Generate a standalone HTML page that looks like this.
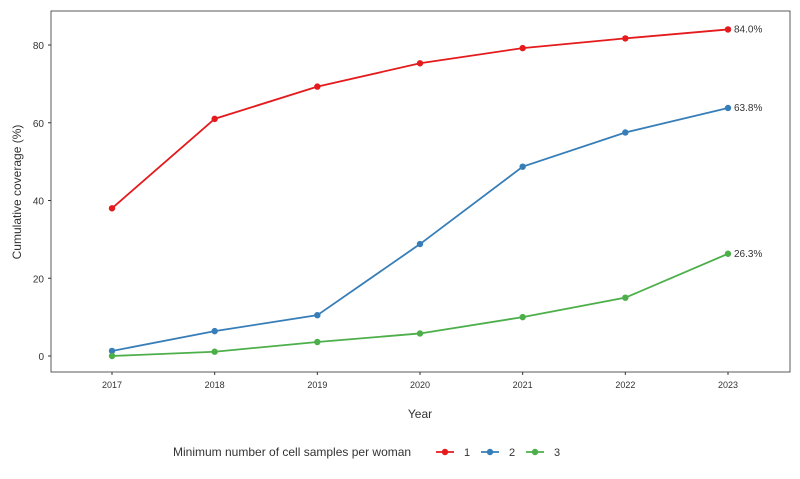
<!DOCTYPE html>
<html><head><meta charset="utf-8"><style>
body{margin:0;background:#fff;font-family:"Liberation Sans",sans-serif}
svg text{font-family:"Liberation Sans",sans-serif;fill:#333}
</style></head><body>
<svg id="c" width="800" height="474">
<rect x="51" y="11" width="739" height="361" fill="none" stroke="#333" stroke-width="0.8"/>
<g id="ax"></g><g id="marks"></g>
<text x="420" y="418" font-size="12" text-anchor="middle">Year</text>
<text transform="translate(21,192) rotate(-90)" font-size="12" text-anchor="middle">Cumulative coverage (%)</text>
<g>
<text x="173" y="456" font-size="12">Minimum number of cell samples per woman</text>
<g id="leg"></g>
</g>
</svg>
<script>
const years=[2017,2018,2019,2020,2021,2022,2023];
const s1=[38.0,61.0,69.3,75.3,79.2,81.7,84.0];
const s2=[1.3,6.4,10.5,28.8,48.7,57.5,63.8];
const s3=[0.0,1.1,3.6,5.8,10.0,15.0,26.3];
const seriesNames=["1","2","3"];
const colors=["#e41a1c","#377eb8","#4daf4a"];
const yTicks=[0,20,40,60,80];
const endLabels=["84.0%","63.8%","26.3%"];
const NS="http://www.w3.org/2000/svg";
const x=v=>112+(v-2017)*(728-112)/6;
const y=v=>356-v*(356-45)/80;
function el(t,a,p){const e=document.createElementNS(NS,t);for(const k in a)e.setAttribute(k,a[k]);p.appendChild(e);return e;}
const ax=document.getElementById('ax');
yTicks.forEach(t=>{
 const l=el('line',{x1:48,x2:51,y1:y(t),y2:y(t),stroke:'#333'},ax);
 
 
 const tx=el('text',{x:44,y:y(t)+4,'font-size':10,'text-anchor':'end'},ax);tx.textContent=t;
 
 
});
years.forEach(v=>{
 const l=el('line',{x1:x(v),x2:x(v),y1:372,y2:375,stroke:'#333'},ax);
 
 
 const tx=el('text',{x:x(v),y:388,'font-size':9,'text-anchor':'middle'},ax);tx.textContent=v;
 
 
});
const m=document.getElementById('marks');
[s1,s2,s3].forEach((s,i)=>{
 const p=el('polyline',{points:s.map((v,j)=>x(years[j])+','+y(v)).join(' '),fill:'none',stroke:colors[i],'stroke-width':1.8},m);
 
 
 s.forEach((v,j)=>{
  const c=el('circle',{cx:x(years[j]),cy:y(v),r:3.2,fill:colors[i]},m);
  
  
 });
 const t=el('text',{x:x(2023)+6,y:y(s[6])+3,'font-size':10},m);t.textContent=endLabels[i];
 
 
});
const lg=document.getElementById('leg');
[445,490,535].forEach((lx,i)=>{
 const l=el('line',{x1:lx-9,x2:lx+9,y1:452,y2:452,stroke:colors[i],'stroke-width':1.8},lg);
 
 
 el('circle',{cx:lx,cy:452,r:3.2,fill:colors[i]},lg);
 const t=el('text',{x:lx+19,y:456,'font-size':11},lg);t.textContent=seriesNames[i];
 
 
});
</script>
</body></html>
